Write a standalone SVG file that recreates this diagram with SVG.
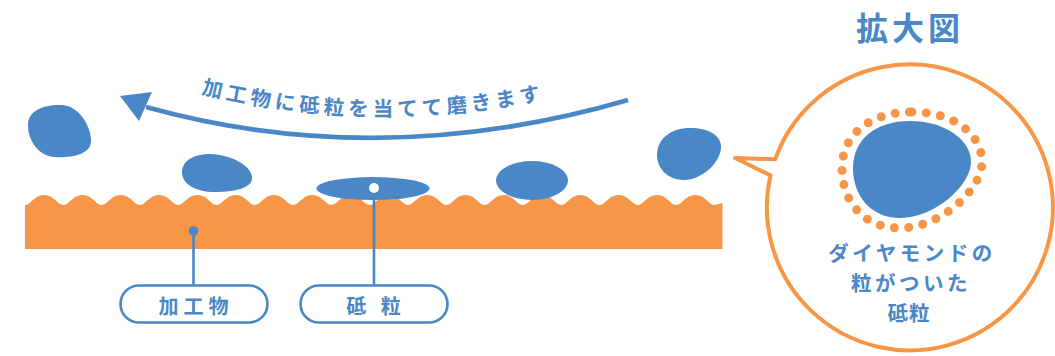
<svg xmlns="http://www.w3.org/2000/svg" width="1055" height="356" viewBox="0 0 1055 356">
<style>
.blue{fill:#4a87c6}
.band{fill:#f79646}
.lead{stroke:#4a87c6;stroke-width:2.6;fill:none}
.pill{fill:#fff;stroke:#4a87c6;stroke-width:2.6}
.txt{font-family:"Noto Sans CJK JP","Noto Sans",sans-serif;font-weight:700;fill:#4a87c6}
</style>
<defs>
<path id="textArc" d="M198,93 Q377,138 560,96"/>
</defs>
<rect width="1055" height="356" fill="#fff"/>
<g id="workpiece">
<path class="band" d="M25,205 c6,0 9,-10 19.15,-10 s13.15,10 19.15,10 s9,-10 19.15,-10 s13.15,10 19.15,10 s9,-10 19.15,-10 s13.15,10 19.15,10 s9,-10 19.15,-10 s13.15,10 19.15,10 s9,-10 19.15,-10 s13.15,10 19.15,10 s9,-10 19.15,-10 s13.15,10 19.15,10 s9,-10 19.15,-10 s13.15,10 19.15,10 s9,-10 19.15,-10 s13.15,10 19.15,10 s9,-10 19.15,-10 s13.15,10 19.15,10 s9,-10 19.15,-10 s13.15,10 19.15,10 s9,-10 19.15,-10 s13.15,10 19.15,10 s9,-10 19.15,-10 s13.15,10 19.15,10 s9,-10 19.15,-10 s13.15,10 19.15,10 s9,-10 19.15,-10 s13.15,10 19.15,10 s9,-10 19.15,-10 s13.15,10 19.15,10 s9,-10 19.15,-10 s13.15,10 19.15,10 s9,-10 19.15,-10 s13.15,10 19.15,10 s9,-10 19.15,-10 s13.15,10 19.15,10 L722.5,203 L722.5,249 L25,249 Z"/>
</g>
<g id="grains">
<path class="blue" d="M62,105 C80,106 92,128 91,142 C90,155 70,158 55,157 C38,156 28,140 28,125 C28,110 45,104 62,105 Z"/>
<path class="blue" d="M210,154 C232,155 252,166 252,178 C252,189 232,192 215,192 C195,192 182,184 182,172 C182,160 195,154 210,154 Z"/>
<ellipse class="blue" cx="373" cy="188.5" rx="56.5" ry="11.5"/>
<ellipse class="blue" cx="532" cy="180.5" rx="36" ry="19.5"/>
<path class="blue" d="M690,128 C708,128 721,135 721,147 C721,162 702,180 684,180 C667,180 657,168 657,155 C657,138 672,128 690,128 Z"/>
</g>
<g id="flow-arrow">
<path d="M628,100 Q380,172 146,107" fill="none" stroke="#4a87c6" stroke-width="4.8"/>
<polygon class="blue" points="120,96 152,92 139,121"/>
<text class="txt" font-size="20.5" letter-spacing="4.3"><textPath href="#textArc" startOffset="3">加工物に砥粒を当てて磨きます</textPath></text>
</g>
<g id="connectors">
<line class="lead" x1="193.5" y1="231" x2="193.5" y2="285"/>
<circle class="blue" cx="193.5" cy="231" r="4.8"/>
<line class="lead" x1="374" y1="192" x2="374" y2="285"/>
<circle cx="374" cy="188" r="5" fill="#fff"/>
</g>
<g id="label-workpiece">
<rect class="pill" x="120.5" y="285.5" width="147" height="37" rx="18.5"/>
<text class="txt" x="196" y="313.5" font-size="20" letter-spacing="5" text-anchor="middle">加工物</text>
</g>
<g id="label-grain">
<rect class="pill" x="300.5" y="285.5" width="147" height="37" rx="18.5"/>
<text class="txt" x="376" y="313.5" font-size="20" letter-spacing="5" text-anchor="middle">砥 粒</text>
</g>
<g id="magnified">
<text class="txt" x="910" y="40" font-size="32" letter-spacing="4" text-anchor="middle">拡大図</text>
<path d="M775.2,159.3 L735,158 L770.5,175.4 A143,143 0 1 0 775.2,159.3 Z" fill="#fff" stroke="#f79646" stroke-width="4" stroke-linejoin="round"/>
<path d="M912,112 C955,112 982,135 982,162 C982,190 940,228 900,228 C862,228 842,200 842,168 C842,135 870,112 912,112 Z" fill="none" stroke="#f79646" stroke-width="9" stroke-linecap="round" stroke-dasharray="0 14.3"/>
<path class="blue" d="M910,121 C945,121 971,140 971,162 C971,185 935,218 900,218 C870,218 853,195 853,168 C853,140 875,121 910,121 Z"/>
<text class="txt" font-size="20.5" text-anchor="middle"><tspan x="912" y="261" letter-spacing="3.5">ダイヤモンドの</tspan><tspan x="911" y="291" letter-spacing="3.5">粒がついた</tspan><tspan x="909" y="321" letter-spacing="1">砥粒</tspan></text>
</g>
</svg>
